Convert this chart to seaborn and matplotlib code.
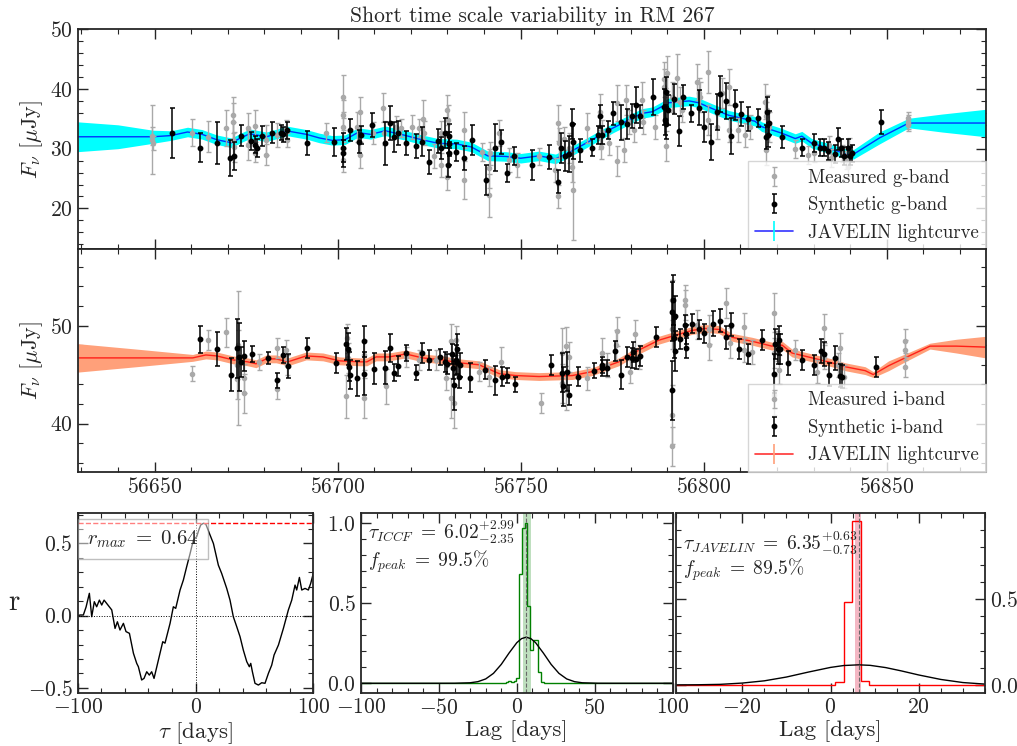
import matplotlib
matplotlib.use("Agg")
import matplotlib.pyplot as plt
import seaborn as sns
from matplotlib.ticker import AutoMinorLocator, MultipleLocator
from matplotlib.lines import Line2D

# ---------------- g-band light curves (MJD, flux [uJy], 1-sigma error) ----------------
g_meas_mjd = [56649.4, 56649.4, 56649.5, 56660.3, 56664.5, 56669.5, 56671.4, 56671.4, 56671.5, 56671.6,
              56675.4, 56675.4, 56677.5, 56677.5, 56680.5, 56680.5, 56683.4, 56685.9, 56686.1, 56696.8,
              56701.4, 56701.4, 56701.4, 56701.5, 56705.4, 56706.1, 56706.2, 56709.7, 56712.3, 56712.7,
              56715.9, 56717.3, 56720.4, 56722.3, 56723.4, 56723.5, 56726.4, 56728.2, 56728.3, 56730.0,
              56730.1, 56730.0, 56734.4, 56734.4, 56739.4, 56741.4, 56741.4, 56741.7, 56744.1, 56746.8,
              56749.1, 56755.0, 56759.5, 56760.3, 56760.3, 56760.4, 56761.8, 56763.2, 56764.1, 56764.2,
              56768.2, 56771.6, 56771.6, 56771.9, 56772.2, 56774.1, 56776.2, 56776.3, 56778.2, 56778.9,
              56779.5, 56780.9, 56783.2, 56783.3, 56786.8, 56789.1, 56789.1, 56789.5, 56789.6, 56789.9,
              56791.4, 56792.7, 56793.5, 56794.1, 56798.2, 56798.6, 56798.9, 56801.1, 56801.1, 56803.6,
              56805.0, 56806.8, 56806.8, 56809.3, 56811.4, 56812.7, 56816.8, 56817.0, 56817.1, 56817.3,
              56817.7, 56825.0, 56828.6, 56830.1, 56834.1, 56834.8, 56837.7, 56838.9, 56839.4, 56839.8,
              56855.9, 56855.9, 56855.9]
g_meas_flux = [31.5, 32.2, 30.9, 32.7, 32.0, 33.4, 34.4, 35.6, 31.5, 30.3,
               33.5, 30.6, 33.8, 29.2, 31.5, 29.0, 32.3, 33.3, 31.5, 32.7,
               38.7, 35.6, 33.7, 28.1, 33.7, 36.2, 29.0, 32.6, 36.9, 32.6,
               33.7, 33.4, 33.7, 33.4, 34.9, 32.6, 28.8, 32.6, 27.3, 36.5,
               34.8, 25.2, 33.1, 24.8, 29.5, 26.7, 22.2, 29.2, 32.6, 28.1,
               27.3, 28.7, 26.4, 34.3, 22.0, 30.9, 31.7, 30.1, 27.0, 23.0,
               33.4, 36.2, 32.0, 30.3, 32.8, 30.9, 37.7, 28.0, 29.8, 38.2,
               34.5, 33.1, 38.2, 34.5, 33.7, 41.6, 40.4, 37.6, 30.5, 42.6,
               38.7, 41.8, 37.9, 36.5, 41.2, 39.3, 38.7, 42.9, 34.8, 33.7,
               39.3, 40.4, 33.1, 33.1, 32.3, 33.7, 37.9, 35.4, 29.8, 36.5,
               33.7, 29.9, 29.0, 29.2, 30.6, 28.4, 29.2, 28.1, 27.0, 30.3,
               34.5, 34.0, 35.1]
g_meas_err = [5.8, 1.5, 1.2, 2.2, 2.6, 3.0, 3.2, 3.0, 3.0, 2.5,
              2.5, 2.5, 2.6, 1.5, 2.5, 1.8, 2.0, 1.5, 1.2, 1.6,
              3.6, 2.5, 2.5, 2.0, 2.5, 2.4, 2.2, 1.8, 2.5, 2.0,
              1.8, 1.5, 2.0, 1.5, 3.2, 2.0, 2.0, 2.0, 2.0, 2.5,
              2.5, 2.2, 3.0, 3.2, 1.5, 3.2, 3.6, 2.0, 2.2, 2.0,
              2.0, 1.5, 2.0, 3.0, 2.0, 2.5, 2.0, 2.5, 2.5, 8.3,
              2.5, 3.0, 2.0, 2.0, 2.0, 2.0, 3.0, 2.5, 2.0, 2.5,
              2.0, 2.0, 3.0, 2.0, 2.0, 3.0, 3.0, 2.5, 2.5, 3.0,
              2.5, 4.0, 2.5, 2.0, 3.0, 2.5, 2.5, 3.5, 2.5, 2.0,
              2.5, 3.0, 2.0, 2.0, 2.0, 2.0, 3.0, 2.5, 2.5, 2.5,
              2.5, 1.5, 1.5, 1.5, 1.5, 1.5, 1.5, 1.5, 1.5, 1.5,
              1.2, 1.0, 1.0]

g_syn_mjd = [56654.8, 56662.4, 56667.0, 56670.5, 56671.6, 56673.5, 56676.4, 56677.5, 56678.0, 56679.4,
             56682.0, 56684.4, 56685.2, 56686.1, 56691.6, 56699.1, 56701.4, 56701.5, 56703.5, 56705.9,
             56706.4, 56709.3, 56712.9, 56714.2, 56715.4, 56716.5, 56718.8, 56721.4, 56723.0, 56725.0,
             56727.3, 56728.2, 56729.3, 56730.3, 56730.4, 56730.3, 56730.2, 56732.3, 56734.4, 56736.8,
             56740.5, 56743.0, 56744.7, 56746.2, 56748.2, 56753.2, 56757.7, 56760.3, 56761.1, 56762.1,
             56763.2, 56764.1, 56764.3, 56766.2, 56769.6, 56771.1, 56771.6, 56772.3, 56773.8, 56775.2,
             56777.3, 56779.1, 56780.3, 56781.6, 56782.7, 56786.1, 56789.1, 56789.3, 56789.7, 56789.7,
             56790.2, 56791.8, 56793.2, 56794.3, 56796.5, 56798.6, 56800.0, 56802.1, 56803.6, 56804.5,
             56806.2, 56807.5, 56808.6, 56810.2, 56812.0, 56814.8, 56817.0, 56817.4, 56817.5, 56817.9,
             56821.5, 56826.8, 56830.0, 56831.8, 56832.9, 56833.9, 56835.9, 56836.8, 56837.5, 56838.4,
             56839.5, 56840.0, 56840.4, 56848.4]
g_syn_flux = [32.7, 30.2, 30.9, 28.5, 28.8, 32.2, 31.3, 30.7, 30.1, 32.1,
              32.7, 32.7, 32.4, 33.1, 30.9, 31.1, 30.2, 29.2, 33.1, 31.2,
              32.3, 33.9, 30.9, 34.3, 32.0, 32.6, 30.9, 30.5, 31.2, 27.8,
              31.3, 30.1, 32.7, 32.1, 30.8, 29.2, 27.2, 29.4, 28.4, 31.5,
              24.8, 30.2, 31.1, 25.9, 28.8, 27.3, 28.6, 24.5, 30.1, 28.8,
              29.1, 34.1, 31.2, 29.7, 30.2, 32.3, 35.4, 32.3, 33.1, 35.9,
              34.4, 34.1, 35.5, 37.3, 35.4, 38.6, 37.0, 34.8, 34.1, 39.5,
              36.5, 38.3, 33.0, 38.7, 35.9, 36.9, 33.7, 31.1, 36.2, 39.1,
              38.0, 32.1, 37.3, 35.8, 35.0, 35.1, 32.0, 36.2, 32.3, 34.3,
              32.0, 30.2, 31.0, 30.2, 30.2, 29.6, 29.1, 31.6, 30.1, 28.8,
              30.1, 28.8, 29.2, 34.5]
g_syn_err = [4.2, 2.4, 3.5, 3.0, 2.4, 1.7, 1.5, 1.5, 1.5, 1.7,
             1.8, 1.2, 1.2, 1.4, 2.0, 2.3, 2.5, 2.2, 1.8, 2.0,
             1.5, 2.0, 3.6, 2.9, 2.5, 2.0, 2.0, 2.0, 2.5, 2.0,
             2.0, 1.8, 2.5, 2.0, 2.0, 2.0, 2.0, 1.5, 2.0, 2.5,
             2.5, 4.0, 2.0, 1.5, 1.5, 2.5, 2.0, 2.0, 2.5, 2.5,
             3.0, 2.5, 3.0, 2.0, 1.5, 1.5, 2.0, 1.5, 1.5, 2.0,
             3.0, 2.5, 2.0, 3.0, 2.0, 3.0, 3.0, 2.5, 2.5, 2.5,
             2.5, 2.5, 2.5, 2.0, 1.5, 3.0, 2.5, 3.0, 3.0, 3.0,
             3.0, 3.0, 2.5, 2.0, 2.0, 1.5, 2.0, 2.5, 2.0, 2.0,
             1.8, 1.5, 1.5, 1.5, 1.5, 1.5, 1.5, 1.8, 1.5, 1.5,
             1.5, 1.5, 1.5, 2.0]

g_model_mjd = [56629.0, 56640.0, 56649.5, 56654.5, 56659.0, 56663.0, 56667.0, 56671.0, 56673.5, 56676.0,
               56680.5, 56683.5, 56686.0, 56691.5, 56695.0, 56698.5, 56702.0, 56705.5, 56709.0, 56713.0,
               56718.0, 56723.0, 56727.5, 56732.5, 56736.5, 56741.0, 56746.0, 56750.0, 56755.0, 56759.5,
               56762.0, 56766.0, 56769.5, 56775.0, 56779.5, 56783.0, 56786.0, 56790.5, 56796.0, 56798.6,
               56802.0, 56806.8, 56814.0, 56815.8, 56821.3, 56825.0, 56826.8, 56829.5, 56834.0, 56839.5,
               56841.0, 56848.0, 56856.0, 56865.0, 56877.0]
g_model_flux = [32.0, 32.0, 32.0, 32.2, 32.8, 32.4, 31.5, 31.0, 31.8, 32.5,
                32.0, 32.5, 33.0, 32.4, 31.8, 31.4, 31.5, 32.7, 32.4, 33.0,
                32.3, 31.5, 30.9, 30.8, 30.3, 28.8, 28.7, 28.4, 28.8, 28.3,
                29.0, 30.3, 31.5, 33.4, 34.8, 35.9, 36.2, 37.7, 38.0, 37.7,
                36.8, 35.6, 34.6, 33.7, 32.6, 31.7, 32.1, 30.9, 30.1, 29.0,
                29.1, 31.8, 34.3, 34.3, 34.3]
g_model_err = [2.5, 2.0, 1.1, 0.8, 0.8, 0.8, 0.8, 0.8, 0.8, 0.8,
               0.8, 0.8, 0.8, 0.8, 0.8, 0.8, 0.8, 0.8, 0.8, 0.8,
               0.8, 0.8, 0.8, 0.8, 0.8, 0.8, 0.8, 0.8, 0.8, 0.8,
               0.8, 0.8, 0.8, 0.8, 0.8, 0.8, 0.8, 0.8, 0.8, 0.8,
               0.8, 0.8, 0.8, 0.8, 0.8, 0.8, 0.8, 0.8, 0.8, 0.8,
               0.8, 1.0, 0.8, 1.5, 2.3]

# ---------------- i-band light curves ----------------
i_meas_mjd = [56660.2, 56664.5, 56669.5, 56672.4, 56672.6, 56672.7, 56672.8, 56674.5, 56674.5, 56678.6,
              56683.5, 56683.5, 56685.9, 56686.1, 56702.3, 56702.6, 56702.9, 56707.3, 56707.3, 56713.2,
              56718.8, 56722.3, 56726.8, 56729.6, 56731.0, 56731.1, 56731.8, 56732.3, 56738.6, 56741.4,
              56744.5, 56755.5, 56761.2, 56761.2, 56762.3, 56762.3, 56763.2, 56768.2, 56772.3, 56773.6,
              56775.9, 56776.3, 56779.9, 56781.3, 56782.2, 56791.2, 56791.2, 56791.2, 56791.2, 56795.0,
              56795.0, 56798.2, 56801.4, 56801.4, 56806.2, 56807.1, 56811.1, 56811.1, 56813.2, 56819.1,
              56819.1, 56819.3, 56820.0, 56820.5, 56825.0, 56830.9, 56832.9, 56832.9, 56836.8, 56837.1,
              56838.4, 56855.0, 56855.0, 56855.0]
i_meas_flux = [45.1, 48.5, 49.3, 46.0, 44.5, 48.0, 46.7, 43.1, 44.6, 46.3,
               47.7, 43.5, 47.5, 46.0, 42.8, 48.7, 46.7, 42.6, 47.0, 43.8,
               46.8, 46.5, 46.5, 44.6, 42.6, 48.4, 42.1, 48.5, 45.3, 44.8,
               46.3, 42.1, 47.2, 44.1, 47.9, 43.4, 46.8, 44.6, 47.2, 46.0,
               48.0, 49.4, 45.3, 49.1, 46.8, 52.6, 49.6, 40.9, 37.7, 52.6,
               52.1, 50.1, 49.6, 48.0, 52.3, 48.2, 49.8, 47.5, 47.3, 51.3,
               42.9, 47.2, 47.9, 45.5, 47.5, 45.3, 49.7, 46.8, 46.0, 47.7,
               44.8, 48.4, 45.8, 47.5]
i_meas_err = [0.8, 1.0, 1.5, 1.5, 2.0, 1.5, 6.8, 2.0, 1.5, 0.8,
              1.0, 1.0, 1.0, 1.0, 2.2, 1.5, 1.5, 2.0, 1.5, 1.8,
              1.0, 1.0, 1.0, 1.2, 2.0, 1.8, 2.5, 1.5, 1.0, 1.0,
              1.5, 1.0, 2.5, 2.0, 2.0, 2.0, 1.5, 1.2, 1.5, 1.2,
              1.5, 1.5, 1.2, 1.5, 1.2, 2.0, 2.0, 3.0, 2.0, 1.5,
              1.5, 1.5, 1.5, 1.5, 1.5, 1.5, 1.5, 1.2, 1.2, 2.0,
              2.0, 1.5, 1.5, 1.5, 1.0, 1.2, 1.5, 1.2, 1.2, 1.5,
              1.2, 1.2, 1.0, 1.0]

i_syn_mjd = [56662.5, 56667.1, 56670.9, 56672.6, 56673.0, 56673.7, 56674.5, 56676.5, 56681.1, 56683.5,
             56685.0, 56686.5, 56691.6, 56699.5, 56702.3, 56702.7, 56703.2, 56703.4, 56705.4, 56707.3,
             56707.3, 56710.0, 56712.9, 56714.4, 56715.4, 56716.5, 56718.8, 56721.4, 56723.0, 56725.0,
             56727.9, 56729.3, 56730.0, 56731.2, 56731.4, 56731.7, 56732.3, 56732.5, 56732.7, 56733.2,
             56733.5, 56736.2, 56740.3, 56742.9, 56744.8, 56746.2, 56748.4, 56758.2, 56761.2, 56761.6,
             56762.7, 56763.2, 56765.7, 56770.0, 56772.1, 56772.3, 56773.6, 56775.7, 56777.3, 56779.1,
             56780.5, 56780.7, 56781.5, 56782.5, 56786.9, 56791.2, 56791.2, 56791.5, 56791.9, 56792.1,
             56792.1, 56793.6, 56795.0, 56795.2, 56795.2, 56796.8, 56798.6, 56800.2, 56802.4, 56804.5,
             56806.2, 56807.5, 56809.5, 56812.0, 56815.9, 56819.1, 56819.5, 56820.3, 56820.6, 56820.9,
             56823.0, 56826.8, 56830.0, 56832.0, 56832.9, 56834.1, 56835.9, 56837.1, 56837.9, 56847.0]
i_syn_flux = [48.6, 47.6, 45.0, 47.7, 46.8, 46.3, 46.9, 47.1, 46.7, 44.4,
              47.0, 45.9, 47.7, 46.2, 48.1, 47.6, 45.8, 45.0, 44.6, 48.4,
              45.1, 45.6, 45.7, 47.7, 45.2, 45.9, 47.2, 45.2, 47.2, 46.5,
              46.8, 46.3, 46.1, 47.1, 45.7, 43.9, 46.5, 47.6, 46.3, 44.8,
              46.0, 44.7, 45.5, 44.4, 44.8, 44.9, 44.0, 46.0, 45.2, 43.8,
              45.3, 42.9, 44.8, 45.4, 45.7, 46.0, 45.7, 47.4, 45.0, 46.8,
              46.7, 47.3, 46.6, 46.9, 48.8, 51.4, 43.4, 52.6, 48.7, 51.0,
              47.4, 48.6, 50.1, 49.1, 47.7, 50.2, 49.6, 49.2, 50.2, 50.5,
              48.8, 50.1, 47.6, 47.1, 48.5, 45.1, 48.1, 47.6, 48.5, 47.6,
              46.2, 46.5, 46.0, 47.4, 47.1, 45.0, 46.7, 44.9, 44.8, 45.8]
i_syn_err = [1.35, 1.7, 1.7, 3.0, 3.5, 1.5, 1.5, 0.8, 0.6, 0.8,
             0.8, 1.2, 1.0, 1.0, 1.6, 1.6, 1.5, 1.5, 1.8, 1.6,
             2.2, 1.6, 1.7, 1.4, 0.9, 1.0, 0.8, 0.8, 1.0, 1.0,
             0.8, 1.0, 1.0, 1.0, 1.2, 2.5, 1.5, 1.5, 1.2, 1.2,
             1.2, 1.5, 1.0, 1.5, 1.0, 0.8, 0.8, 1.0, 2.0, 2.0,
             2.0, 1.0, 1.0, 0.8, 0.8, 0.8, 0.8, 1.0, 1.5, 1.0,
             1.0, 1.0, 1.0, 1.0, 1.0, 3.0, 3.0, 2.5, 2.0, 2.0,
             2.0, 1.0, 1.0, 1.0, 1.0, 1.0, 1.0, 1.0, 1.3, 1.2,
             1.2, 1.2, 1.0, 1.0, 1.0, 2.0, 1.5, 1.5, 1.5, 1.5,
             1.2, 1.0, 1.0, 1.2, 1.2, 1.2, 1.2, 1.2, 1.2, 1.0]

i_model_mjd = [56629.0, 56645.0, 56660.4, 56664.0, 56667.0, 56671.4, 56675.4, 56677.7, 56680.5, 56683.2,
               56686.4, 56691.4, 56696.0, 56700.5, 56706.0, 56708.0, 56710.5, 56714.0, 56718.6, 56723.2,
               56728.6, 56733.2, 56738.6, 56744.1, 56748.6, 56755.0, 56764.1, 56769.5, 56776.8, 56782.3,
               56787.7, 56791.3, 56796.8, 56800.4, 56804.1, 56807.7, 56813.2, 56818.6, 56821.4, 56824.1,
               56829.6, 56835.0, 56838.6, 56844.1, 56846.3, 56850.5, 56855.0, 56861.8, 56869.0, 56877.0]
i_model_flux = [46.7, 46.7, 46.7, 47.0, 46.9, 46.5, 46.3, 46.1, 46.6, 46.6,
                46.3, 46.9, 46.8, 46.4, 46.3, 46.3, 46.8, 46.8, 47.1, 46.7,
                46.5, 46.2, 46.0, 45.1, 44.9, 44.8, 44.9, 45.3, 46.3, 47.5,
                48.5, 48.9, 49.5, 49.7, 49.6, 48.8, 48.4, 47.9, 48.0, 47.2,
                46.7, 46.2, 45.8, 45.4, 45.0, 45.9, 46.7, 47.9, 47.9, 47.8]
i_model_err = [1.45, 0.9, 0.35, 0.4, 0.4, 0.4, 0.4, 0.4, 0.4, 0.4,
               0.4, 0.4, 0.4, 0.4, 0.4, 0.4, 0.4, 0.4, 0.4, 0.4,
               0.4, 0.4, 0.4, 0.4, 0.4, 0.4, 0.4, 0.4, 0.4, 0.4,
               0.4, 0.4, 0.4, 0.4, 0.4, 0.4, 0.4, 0.4, 0.4, 0.4,
               0.4, 0.4, 0.4, 0.4, 0.3, 0.5, 0.4, 0.3, 0.7, 1.1]

# ---------------- cross-correlation function ----------------
ccf_lag = [-100, -98, -95.2, -92.9, -90.1, -88.1, -85.9, -83.9, -81.6, -79.6, -77.6, -75.4, -71.1, -68.3,
           -66.3, -64.1, -61.2, -59.0, -56.1, -52.7, -49.9, -48.5, -45.7, -43.7, -41.4, -39.2, -37.2,
           -35.2, -31.5, -27.8, -25.9, -21.6, -18.8, -16.8, -13.1, -10.3, -7.5, -4.6, -1.8, 1.0, 3.0,
           4.4, 6.7, 8.7, 11.8, 15.2, 19.4, 22.2, 26.5, 29.3, 32.1, 35.0, 37.8, 40.6, 43.5, 45.7, 46.9,
           48.3, 50.5, 53.4, 56.2, 59.0, 61.9, 64.7, 66.7, 70.4, 74.6, 78.8, 81.7, 84.5, 85.9, 88.2,
           90.2, 93.0, 95.8, 97.8, 100]
ccf_r = [0.0, 0.005, 0.005, 0.06, 0.155, -0.007, 0.097, 0.062, 0.108, 0.074, 0.108, 0.085, 0.04, -0.088,
         -0.042, -0.099, -0.053, -0.11, -0.122, -0.26, -0.33, -0.353, -0.445, -0.434, -0.388, -0.411,
         -0.388, -0.434, -0.307, -0.18, -0.19, -0.053, 0.062, 0.051, 0.178, 0.247, 0.339, 0.43, 0.524,
         0.547, 0.598, 0.628, 0.64, 0.635, 0.57, 0.50, 0.35, 0.293, 0.189, 0.108, -0.007, -0.076, -0.145,
         -0.238, -0.318, -0.353, -0.33, -0.388, -0.468, -0.48, -0.464, -0.468, -0.399, -0.342, -0.272,
         -0.203, -0.088, 0.039, 0.108, 0.212, 0.178, 0.265, 0.178, 0.189, 0.178, 0.224, 0.293]
r_max = 0.64

# ---------------- ICCF lag distribution ----------------
iccf_edges = [-100, -7.25, -5.5, -3.75, -2.0, -0.25, 1.5, 3.25, 5.0, 6.75, 8.5, 10.25, 12.0, 13.75,
              15.5, 17.25, 100]
iccf_vals = [0.0, 0.006, 0.012, 0.008, 0.015, 0.03, 0.68, 0.97, 1.0, 0.48, 0.21, 0.27, 0.27, 0.07,
             0.01, 0.0]
iccf_gauss_lag = [-100, -50, -40, -30, -25, -20, -15, -10, -5, 0, 3, 6, 9, 12, 17, 22, 27, 32, 37,
                  42, 52, 62, 100]
iccf_gauss_val = [0.0, 0.0, 0.0002, 0.003, 0.010, 0.027, 0.062, 0.118, 0.189, 0.254, 0.279, 0.288,
                  0.279, 0.254, 0.189, 0.118, 0.062, 0.027, 0.010, 0.003, 0.0002, 0.0, 0.0]
tau_iccf, tau_iccf_up, tau_iccf_lo, fpeak_iccf = 6.02, 2.99, 2.35, 99.5

# ---------------- JAVELIN lag distribution ----------------
jav_edges = [-35, 1.0, 2.95, 4.9, 6.85, 8.8, 35]
jav_vals = [0.0, 0.02, 0.48, 0.955, 0.023, 0.0]
jav_gauss_lag = [-35, -30, -25, -20, -15, -10, -5, 0, 3, 6.35, 9, 12.5, 16, 20, 25, 30, 35]
jav_gauss_val = [0.0003, 0.0012, 0.0035, 0.011, 0.024, 0.046, 0.075, 0.102, 0.113, 0.117, 0.114,
                 0.101, 0.082, 0.058, 0.032, 0.014, 0.005]
tau_jav, tau_jav_up, tau_jav_lo, fpeak_jav = 6.35, 0.63, 0.73, 89.5

# ---------------- style ----------------
sns.set_style("ticks")
plt.rcParams.update({
    "font.family": ["cmr10", "DejaVu Serif"],
    "mathtext.fontset": "cm",
    "axes.formatter.use_mathtext": True,
    "axes.linewidth": 1.3,
    "xtick.labelsize": 15.5,
    "ytick.labelsize": 15.5,
})

W, H = 1017, 746
fig = plt.figure(figsize=(W / 100, H / 100), dpi=100)


def frac(x0, y0, x1, y1):
    return [x0 / W, 1 - y1 / H, (x1 - x0) / W, (y1 - y0) / H]


ax_g = fig.add_axes(frac(77.7, 29.3, 986, 249))
ax_i = fig.add_axes(frac(77.7, 249, 986, 471.7), sharex=ax_g)
ax_ccf = fig.add_axes(frac(77.7, 513.3, 313.3, 692.7))
ax_iccf = fig.add_axes(frac(361, 513.3, 672.7, 692.7))
ax_jav = fig.add_axes(frac(676, 513.3, 985, 692.7))


def style(ax):
    ax.tick_params(which="both", direction="in", top=True, right=True)
    ax.tick_params(which="major", length=7, width=1.0)
    ax.tick_params(which="minor", length=3.5, width=0.8)
    ax.xaxis.set_minor_locator(AutoMinorLocator())
    ax.yaxis.set_minor_locator(AutoMinorLocator())


def light_curve(ax, mjd_m, f_m, e_m, mjd_s, f_s, e_s, mjd_mod, f_mod, e_mod,
                band_color, line_color, band):
    lo = [f - e for f, e in zip(f_mod, e_mod)]
    hi = [f + e for f, e in zip(f_mod, e_mod)]
    ax.fill_between(mjd_mod, lo, hi, color=band_color, lw=0, zorder=1)
    sns.lineplot(x=mjd_mod, y=f_mod, ax=ax, color=line_color, lw=1.0, alpha=0.8,
                 sort=False, estimator=None, zorder=2)
    meas = ax.errorbar(mjd_m, f_m, yerr=e_m, fmt="o", color="#a9a9a9", ms=3.0, capsize=1.8,
                       elinewidth=1.0, capthick=1.0, zorder=3)
    syn = ax.errorbar(mjd_s, f_s, yerr=e_s, fmt="o", color="k", ms=3.2, capsize=1.8,
                      elinewidth=1.1, capthick=1.1, zorder=4)
    model_handle = (Line2D([], [], color=line_color, lw=1.2, alpha=0.8),
                    Line2D([], [], color=band_color, marker="|", ms=15, mew=1.2, ls="none"))
    leg = ax.legend([meas, syn, model_handle],
                    [f"Measured {band}-band", f"Synthetic {band}-band", "JAVELIN lightcurve"],
                    loc="lower right", borderaxespad=0.0, fontsize=13.5, fancybox=False,
                    framealpha=0.8, edgecolor="#cccccc", handlelength=2.0)
    leg.set_zorder(10)
    ax.set_ylabel(r"$F_\nu$ [$\mu$Jy]", fontsize=16)
    style(ax)


light_curve(ax_g, g_meas_mjd, g_meas_flux, g_meas_err, g_syn_mjd, g_syn_flux, g_syn_err,
            g_model_mjd, g_model_flux, g_model_err, "cyan", "blue", "g")
light_curve(ax_i, i_meas_mjd, i_meas_flux, i_meas_err, i_syn_mjd, i_syn_flux, i_syn_err,
            i_model_mjd, i_model_flux, i_model_err, "lightsalmon", "red", "i")

ax_g.set_xlim(56629, 56877.1)
ax_g.set_ylim(13.2, 50)
ax_i.set_ylim(35.1, 57.8)
ax_g.xaxis.set_major_locator(MultipleLocator(50))
ax_g.yaxis.set_major_locator(MultipleLocator(10))
ax_i.yaxis.set_major_locator(MultipleLocator(10))
ax_i.ticklabel_format(axis="x", useOffset=False, style="plain")
ax_g.tick_params(labelbottom=False)
ax_g.set_title("Short time scale variability in RM 267", fontsize=15.5, pad=5)

# ---- CCF ----
sns.lineplot(x=ccf_lag, y=ccf_r, ax=ax_ccf, color="k", lw=1.0, sort=False, estimator=None)
ax_ccf.axhline(0, color="k", ls=":", lw=0.7)
ax_ccf.axvline(0, color="k", ls=":", lw=0.7)
ax_ccf.axhline(r_max, color="red", ls="--", lw=1.0)
ax_ccf.text(0.278, 0.857, rf"$r_{{max}}\;=\;{r_max:.2f}$", transform=ax_ccf.transAxes,
            ha="center", va="center", fontsize=15,
            bbox=dict(boxstyle="square,pad=0.45", fc="white", ec="gray", alpha=0.5))
ax_ccf.set_xlim(-100, 100)
ax_ccf.set_ylim(-0.533, 0.709)
ax_ccf.xaxis.set_major_locator(MultipleLocator(100))
ax_ccf.yaxis.set_major_locator(MultipleLocator(0.5))
ax_ccf.set_xlabel(r"$\tau$ [days]", fontsize=16.5, labelpad=2)
ax_ccf.set_ylabel("r", fontsize=21, rotation=0, va="center", ha="center")
ax_ccf.yaxis.set_label_coords(-0.27, 0.5)
style(ax_ccf)

# ---- ICCF distribution ----
ax_iccf.axvspan(tau_iccf - tau_iccf_lo, tau_iccf + tau_iccf_up, color="green", alpha=0.25, lw=0)
ax_iccf.stairs(iccf_vals, iccf_edges, color="green", lw=1.0)
sns.lineplot(x=iccf_gauss_lag, y=iccf_gauss_val, ax=ax_iccf, color="k", lw=1.0,
             sort=False, estimator=None)
ax_iccf.axvline(tau_iccf, color="dimgray", ls="--", lw=0.8)
ax_iccf.text(0.022, 0.896,
             rf"$\tau_{{ICCF}}\;=\;{tau_iccf:.2f}^{{+{tau_iccf_up:.2f}}}_{{-{tau_iccf_lo:.2f}}}$",
             transform=ax_iccf.transAxes, ha="left", va="center", fontsize=14)
ax_iccf.text(0.022, 0.73, rf"$f_{{peak}}\;=\;{fpeak_iccf:.1f}\%$",
             transform=ax_iccf.transAxes, ha="left", va="center", fontsize=14)
ax_iccf.set_xlim(-100, 100)
ax_iccf.set_ylim(-0.059, 1.0625)
ax_iccf.xaxis.set_major_locator(MultipleLocator(50))
ax_iccf.yaxis.set_major_locator(MultipleLocator(0.5))
ax_iccf.set_xlabel("Lag [days]", fontsize=16.5, labelpad=2)
ax_iccf.set_ylabel("")
style(ax_iccf)

# ---- JAVELIN distribution ----
ax_jav.axvspan(tau_jav - tau_jav_lo, tau_jav + tau_jav_up, color="crimson", alpha=0.3, lw=0)
ax_jav.stairs(jav_vals, jav_edges, color="red", lw=1.0)
sns.lineplot(x=jav_gauss_lag, y=jav_gauss_val, ax=ax_jav, color="k", lw=1.0,
             sort=False, estimator=None)
ax_jav.axvline(tau_jav, color="dimgray", ls="--", lw=0.8)
ax_jav.text(0.023, 0.834,
            rf"$\tau_{{JAVELIN}}\;=\;{tau_jav:.2f}^{{+{tau_jav_up:.2f}}}_{{-{tau_jav_lo:.2f}}}$",
            transform=ax_jav.transAxes, ha="left", va="center", fontsize=14)
ax_jav.text(0.023, 0.684, rf"$f_{{peak}}\;=\;{fpeak_jav:.1f}\%$",
            transform=ax_jav.transAxes, ha="left", va="center", fontsize=14)
ax_jav.set_xlim(-35, 35)
ax_jav.set_ylim(-0.045, 0.998)
ax_jav.xaxis.set_major_locator(MultipleLocator(20))
ax_jav.yaxis.set_major_locator(MultipleLocator(0.5))
ax_jav.set_xlabel("Lag [days]", fontsize=16.5, labelpad=2)
ax_jav.set_ylabel("")
style(ax_jav)
ax_jav.tick_params(axis="y", which="both", labelleft=False, labelright=True)

fig.savefig("out.png", dpi=100)
